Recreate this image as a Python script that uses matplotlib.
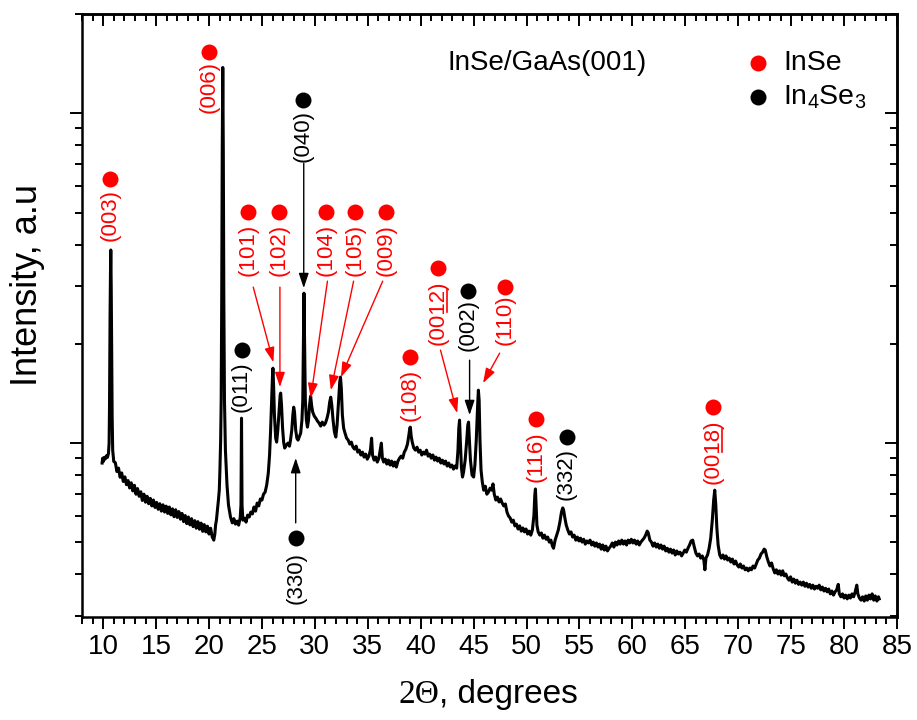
import numpy as np
import matplotlib
matplotlib.use('Agg')
import matplotlib.pyplot as plt
from matplotlib.ticker import MultipleLocator, LogLocator, NullFormatter
from matplotlib.lines import Line2D

plt.rcParams['font.family'] = ['Liberation Sans', 'DejaVu Sans']

# XRD scan: (2theta, intensity in counts)
scan_10_21 = [
    (9.90, 870), (9.95, 900), (10.02, 880), (10.10, 905), (10.20, 895), (10.30, 915),
    (10.40, 905), (10.50, 930), (10.56, 1000), (10.60, 1300), (10.65, 2400), (10.69, 3300),
    (10.72, 3850), (10.76, 3000), (10.80, 1900), (10.85, 1200), (10.90, 950), (11.00, 880),
    (11.15, 872), (11.30, 820), (11.45, 840), (11.60, 788), (11.75, 812), (11.90, 765),
    (12.05, 790), (12.20, 748), (12.35, 770), (12.50, 731), (12.65, 758), (12.80, 716),
    (12.95, 745), (13.10, 700), (13.25, 728), (13.40, 690), (13.55, 712), (13.70, 670),
    (13.85, 700), (14.00, 662), (14.15, 690), (14.30, 655), (14.45, 680), (14.60, 645),
    (14.75, 672), (14.90, 638), (15.05, 661), (15.20, 630), (15.35, 655), (15.50, 622),
    (15.65, 650), (15.80, 618), (15.95, 644), (16.10, 612), (16.25, 640), (16.40, 606),
    (16.55, 632), (16.70, 598), (16.85, 628), (17.00, 595), (17.15, 620), (17.30, 588),
    (17.45, 612), (17.60, 578), (17.75, 603), (17.90, 570), (18.05, 597), (18.20, 565),
    (18.35, 590), (18.50, 558), (18.65, 582), (18.80, 552), (18.95, 578), (19.10, 548),
    (19.25, 572), (19.40, 540), (19.55, 566), (19.70, 538), (19.85, 560), (20.00, 530),
    (20.15, 552), (20.30, 520), (20.45, 508), (20.55, 530),
]
scan_21_34 = [
    (20.62, 564), (20.70, 584), (20.80, 627), (20.89, 672), (20.97, 720), (21.03, 828),
    (21.10, 1021), (21.15, 1350), (21.20, 2710), (21.25, 7720), (21.30, 13770), (21.35, 7720),
    (21.40, 2710), (21.46, 1350), (21.55, 952), (21.70, 746), (21.84, 649), (22.03, 597),
    (22.20, 573), (22.35, 590), (22.50, 568), (22.66, 580), (22.80, 564), (22.95, 595),
    (23.02, 649), (23.07, 1190), (23.12, 649), (23.20, 584), (23.35, 592), (23.50, 576),
    (23.65, 605), (23.80, 597), (23.95, 618), (24.10, 610), (24.25, 640), (24.40, 622),
    (24.55, 658), (24.70, 645), (24.85, 677), (25.00, 672), (25.15, 700), (25.30, 710),
    (25.45, 746), (25.60, 811), (25.72, 920), (25.82, 1095), (25.92, 1350), (26.00, 1607),
    (26.04, 1687), (26.10, 1499), (26.18, 1216), (26.30, 1035), (26.39, 1007), (26.50, 1095),
    (26.62, 1259), (26.72, 1398), (26.77, 1418), (26.85, 1304), (26.95, 1110), (27.05, 1007),
    (27.15, 966), (27.30, 986), (27.46, 1000), (27.60, 979), (27.70, 1021), (27.82, 1095),
    (27.92, 1216), (28.00, 1285), (28.08, 1241), (28.19, 1095), (28.30, 1035), (28.41, 1021),
    (28.55, 1050), (28.66, 1072), (28.78, 1174), (28.86, 1350), (28.92, 2052), (28.97, 2848),
    (29.03, 2052), (29.10, 1350), (29.20, 1174), (29.30, 1118), (29.40, 1174), (29.50, 1304),
    (29.60, 1388), (29.70, 1295), (29.80, 1241), (29.95, 1207), (30.09, 1190), (30.25, 1166),
    (30.40, 1150), (30.55, 1126), (30.70, 1158), (30.87, 1134), (31.00, 1150), (31.15, 1190),
    (31.28, 1241), (31.40, 1331), (31.50, 1378), (31.60, 1304), (31.72, 1174), (31.85, 1080),
    (31.98, 1043), (32.10, 1134), (32.22, 1304), (32.35, 1530), (32.42, 1585), (32.50, 1468),
    (32.60, 1216), (32.72, 1110), (32.85, 1072), (33.00, 1035), (33.15, 1021), (33.30, 993),
    (33.45, 1007), (33.60, 972), (33.75, 959), (33.90, 979),
]
scan_34_46 = [
    (34.05, 939), (34.20, 952), (34.35, 920), (34.50, 939), (34.65, 907), (34.80, 926),
    (34.95, 894), (35.10, 913), (35.25, 952), (35.36, 1035), (35.45, 920), (35.60, 888),
    (35.75, 907), (35.90, 876), (36.05, 900), (36.20, 966), (36.28, 1000), (36.38, 900),
    (36.50, 876), (36.65, 894), (36.80, 864), (36.95, 888), (37.10, 858), (37.25, 882),
    (37.40, 852), (37.55, 876), (37.70, 846), (37.85, 882), (38.00, 900), (38.15, 913),
    (38.30, 900), (38.45, 939), (38.60, 959), (38.75, 993), (38.88, 1057), (38.97, 1110),
    (39.02, 1118), (39.10, 1050), (39.20, 1007), (39.35, 966), (39.50, 952), (39.65, 972),
    (39.80, 939), (39.95, 952), (40.10, 920), (40.25, 939), (40.40, 926), (40.55, 952),
    (40.70, 913), (40.85, 926), (41.00, 900), (41.15, 920), (41.30, 888), (41.45, 907),
    (41.60, 882), (41.75, 900), (41.90, 870), (42.05, 888), (42.20, 864), (42.35, 882),
    (42.50, 852), (42.65, 870), (42.80, 846), (42.95, 858), (43.10, 834), (43.25, 852),
    (43.40, 840), (43.52, 952), (43.60, 1110), (43.67, 1174), (43.74, 1021), (43.85, 840),
    (43.95, 789), (44.05, 817), (44.20, 888), (44.35, 1021), (44.45, 1134), (44.52, 1158),
    (44.60, 1021), (44.70, 888), (44.85, 800), (45.00, 789), (45.12, 858), (45.25, 1021),
    (45.38, 1304), (45.45, 1447), (45.52, 1350), (45.60, 1021), (45.70, 828), (45.82, 762),
    (45.95, 720),
]
scan_46_61 = [
    (46.10, 740), (46.25, 700), (46.40, 710), (46.55, 730), (46.70, 720), (46.83, 752),
    (46.95, 700), (47.10, 672), (47.25, 686), (47.40, 663), (47.55, 677), (47.70, 658),
    (47.85, 645), (48.00, 654), (48.15, 618), (48.30, 601), (48.45, 593), (48.60, 576),
    (48.75, 584), (48.90, 561), (49.05, 568), (49.20, 549), (49.35, 561), (49.50, 541),
    (49.65, 553), (49.80, 538), (49.95, 549), (50.10, 530), (50.25, 541), (50.40, 526),
    (50.55, 545), (50.70, 605), (50.78, 696), (50.84, 726), (50.90, 649), (50.98, 564),
    (51.10, 538), (51.25, 526), (51.40, 534), (51.55, 515), (51.70, 526), (51.85, 511),
    (52.00, 519), (52.15, 501), (52.30, 508), (52.45, 487), (52.55, 480), (52.70, 508),
    (52.85, 526), (53.00, 545), (53.15, 576), (53.30, 618), (53.42, 636), (53.50, 627),
    (53.62, 593), (53.75, 564), (53.90, 545), (54.05, 530), (54.20, 538), (54.35, 519),
    (54.50, 526), (54.65, 508), (54.80, 519), (54.95, 505), (55.10, 515), (55.25, 501),
    (55.40, 511), (55.55, 494), (55.70, 505), (55.85, 498), (56.00, 508), (56.15, 491),
    (56.30, 501), (56.45, 487), (56.60, 498), (56.75, 484), (56.90, 494), (57.05, 477),
    (57.20, 491), (57.35, 474), (57.50, 487), (57.65, 471), (57.80, 480), (57.95, 487),
    (58.10, 498), (58.25, 484), (58.40, 501), (58.55, 491), (58.70, 505), (58.85, 494),
    (59.00, 508), (59.15, 494), (59.30, 505), (59.45, 491), (59.60, 508), (59.75, 498),
    (59.90, 511), (60.05, 498), (60.20, 508), (60.35, 494), (60.50, 505), (60.65, 491),
    (60.80, 501), (60.95, 508),
]
scan_61_72 = [
    (61.10, 515), (61.25, 526), (61.40, 541), (61.50, 534), (61.65, 508), (61.80, 501),
    (61.95, 487), (62.10, 498), (62.25, 484), (62.40, 494), (62.55, 480), (62.70, 491),
    (62.85, 477), (63.00, 487), (63.15, 471), (63.30, 480), (63.45, 467), (63.60, 477),
    (63.75, 464), (63.90, 474), (64.05, 458), (64.20, 471), (64.35, 461), (64.50, 467),
    (64.65, 455), (64.80, 464), (64.95, 474), (65.10, 467), (65.25, 480), (65.40, 491),
    (65.55, 505), (65.70, 508), (65.85, 484), (66.00, 464), (66.15, 455), (66.30, 461),
    (66.45, 448), (66.60, 455), (66.75, 442), (66.85, 413), (66.95, 448), (67.10, 458),
    (67.25, 480), (67.40, 515), (67.55, 584), (67.68, 672), (67.78, 720), (67.88, 649),
    (67.98, 553), (68.10, 491), (68.25, 458), (68.40, 448), (68.55, 458), (68.70, 445),
    (68.85, 455), (69.00, 442), (69.15, 448), (69.30, 436), (69.45, 445), (69.60, 430),
    (69.75, 439), (69.90, 427), (70.05, 421), (70.20, 430), (70.35, 418), (70.50, 424),
    (70.65, 413), (70.80, 418), (70.95, 410), (71.10, 418), (71.25, 413), (71.40, 424),
    (71.55, 418), (71.70, 430), (71.85, 442), (72.00, 448),
]
scan_72_84 = [
    (72.15, 461), (72.30, 467), (72.45, 477), (72.55, 474), (72.70, 452), (72.85, 436),
    (73.00, 424), (73.15, 433), (73.30, 416), (73.45, 404), (73.60, 413), (73.75, 401),
    (73.90, 410), (74.05, 398), (74.20, 410), (74.35, 396), (74.50, 401), (74.65, 390),
    (74.80, 384), (74.95, 393), (75.10, 379), (75.25, 387), (75.40, 376), (75.55, 384),
    (75.70, 373), (75.85, 379), (76.00, 371), (76.15, 379), (76.30, 368), (76.45, 376),
    (76.60, 366), (76.75, 373), (76.90, 363), (77.05, 371), (77.20, 361), (77.35, 368),
    (77.50, 363), (77.65, 371), (77.80, 359), (77.95, 366), (78.10, 356), (78.25, 363),
    (78.40, 354), (78.55, 361), (78.70, 349), (78.85, 356), (79.00, 346), (79.15, 354),
    (79.30, 359), (79.45, 373), (79.55, 349), (79.70, 342), (79.85, 349), (80.00, 339),
    (80.15, 346), (80.30, 337), (80.45, 346), (80.60, 339), (80.75, 349), (80.90, 342),
    (81.05, 354), (81.20, 371), (81.30, 349), (81.45, 339), (81.60, 334), (81.75, 342),
    (81.90, 332), (82.05, 344), (82.20, 334), (82.35, 346), (82.50, 337), (82.65, 349),
    (82.80, 334), (82.95, 344), (83.10, 332), (83.25, 342), (83.32, 337),
]

# peak labels: text, colour, 2theta, dot intensity, text-centre intensity
peak_labels = ['(003)', '(006)', '(040)', '(101)', '(102)', '(104)', '(105)', '(009)',
               '(011)', '(330)', '(108)', '(0012)', '(002)', '(110)', '(116)', '(332)', '(0018)']
peak_colors = ['red', 'red', 'black', 'red', 'red', 'red', 'red', 'red',
               'black', 'black', 'red', 'red', 'black', 'red', 'red', 'black', 'red']
label_x = [10.65, 20.04, 28.85, 23.73, 26.61, 31.03, 33.78, 36.72,
           23.07, 28.19, 39.02, 41.68, 44.46, 47.93, 50.87, 53.78, 67.62]
dot_y = [6310, 15310, 11010, 5015, 5015, 5015, 5015, 5015,
         1914, 515, 1823, 3390, 2890, 2971, 1182, 1043, 1285]
text_y = [4910, 11990, 8510, 3845, 3845, 3845, 3845, 3845,
          1478, 390, 1397, 2493, 2279, 2360, 907, 806, 939]

# arrows: (start 2theta, start I) -> (tip 2theta, tip I)
arrow_colors = ['black', 'red', 'red', 'red', 'red', 'red', 'black', 'red', 'black', 'red']
arrow_start = [(28.95, 7050), (24.18, 2971), (26.70, 2971), (31.19, 3098), (33.66, 3098),
               (36.41, 3098), (28.19, 573), (41.87, 1914), (44.62, 1784), (47.46, 1874)]
arrow_tip = [(28.95, 2950), (26.08, 1758), (26.70, 1478), (29.61, 1369), (31.51, 1447),
             (32.46, 1585), (28.19, 901), (43.45, 1233), (44.62, 1216), (45.89, 1520)]

fig = plt.figure(figsize=(9.17, 7.2), dpi=100)
ax = fig.add_axes([82 / 917, 1 - 617 / 720, 815 / 917, 603 / 720])

scan = np.array(scan_10_21 + scan_21_34 + scan_34_46 + scan_46_61 + scan_61_72 + scan_72_84)
ax.plot(scan[:, 0], scan[:, 1], color='black', lw=2.2, solid_joinstyle='round')

ax.set_yscale('log')
ax.set_xlim(8, 85)
ax.set_ylim(297, 20000)

# peak labels with dots
underline_texts = []
for lab, c, x, yd, yt in zip(peak_labels, peak_colors, label_x, dot_y, text_y):
    ax.plot(x, yd, 'o', color=c, ms=11.5, mec='none')
    t = ax.text(x, yt, lab, color=c, rotation=90, ha='center', va='center', fontsize=16)
    if lab in ('(0012)', '(0018)'):
        underline_texts.append((t, c))

for c, s, e in zip(arrow_colors, arrow_start, arrow_tip):
    ax.annotate('', xy=e, xytext=s,
                arrowprops=dict(arrowstyle='-|>,head_length=0.6,head_width=0.2',
                                color=c, lw=1.0, mutation_scale=15,
                                shrinkA=0, shrinkB=0))

ax.text(0.449, 0.918, 'InSe/GaAs(001)', transform=ax.transAxes, fontsize=20,
        ha='left', va='center')
ax.plot([0.829], [0.919], 'o', color='red', ms=11.5, mec='none', transform=ax.transAxes)
ax.plot([0.829], [0.862], 'o', color='black', ms=11.5, mec='none', transform=ax.transAxes)
ax.text(0.86, 0.919, 'InSe', transform=ax.transAxes, fontsize=20.5, ha='left', va='center')
ax.text(0.86, 0.862, r'In$_{\mathregular{4}}$Se$_{\mathregular{3}}$', transform=ax.transAxes,
        fontsize=20.5, ha='left', va='center')

# axes styling (ticks out on bottom/left, mirrored inward on top/right)
ax.xaxis.set_major_locator(MultipleLocator(5))
ax.xaxis.set_minor_locator(MultipleLocator(1))
ax.yaxis.set_major_locator(LogLocator(base=10, numticks=10))
ax.yaxis.set_minor_locator(LogLocator(base=10, subs=np.arange(2, 10), numticks=20))
ax.yaxis.set_minor_formatter(NullFormatter())
ax.tick_params(which='both', direction='out', width=1.4, top=False, right=False,
               labelleft=False)
ax.tick_params(which='major', length=8.5)
ax.tick_params(which='minor', length=5)
ax.tick_params(axis='x', labelsize=20, pad=4)
for lbl in ax.get_xticklabels():
    lbl.set_family(['Liberation Sans Narrow', 'Liberation Sans', 'DejaVu Sans'])
for sp in ax.spines.values():
    sp.set_linewidth(1.8)

secx = ax.secondary_xaxis('top')
secx.xaxis.set_major_locator(MultipleLocator(5))
secx.xaxis.set_minor_locator(MultipleLocator(1))
secx.tick_params(which='both', direction='in', width=1.4, labeltop=False)
secx.tick_params(which='major', length=8.5)
secx.tick_params(which='minor', length=5)
secx.spines['top'].set_linewidth(1.8)

secy = ax.secondary_yaxis('right')
secy.yaxis.set_major_locator(LogLocator(base=10, numticks=10))
secy.yaxis.set_minor_locator(LogLocator(base=10, subs=np.arange(2, 10), numticks=20))
secy.tick_params(which='both', direction='in', width=1.4, labelright=False)
secy.tick_params(which='major', length=8.5)
secy.tick_params(which='minor', length=5)
secy.spines['right'].set_linewidth(1.8)

ax.set_ylabel('Intensity, a.u', fontsize=26)
ax.yaxis.set_label_coords(-0.045, 0.55)
ax.text(0.438, -0.143, '2\u0398', transform=ax.transAxes, fontsize=24,
        family=['Liberation Serif', 'DejaVu Serif'], ha='right', va='baseline')
ax.text(0.438, -0.143, ', degrees', transform=ax.transAxes, fontsize=24,
        ha='left', va='baseline')

# underline the "12" / "18" part of the rotated hkl labels
fig.canvas.draw()
renderer = fig.canvas.get_renderer()
for t, c in underline_texts:
    bb = t.get_window_extent(renderer)
    xline = bb.x1 - 1.5
    y0 = bb.y0 + 0.50 * bb.height
    y1 = bb.y0 + 0.86 * bb.height
    fx0, fy0 = fig.transFigure.inverted().transform((xline, y0))
    fx1, fy1 = fig.transFigure.inverted().transform((xline, y1))
    fig.add_artist(Line2D([fx0, fx1], [fy0, fy1], color=c, lw=1.2,
                          transform=fig.transFigure))

fig.savefig('out.png', dpi=100)
